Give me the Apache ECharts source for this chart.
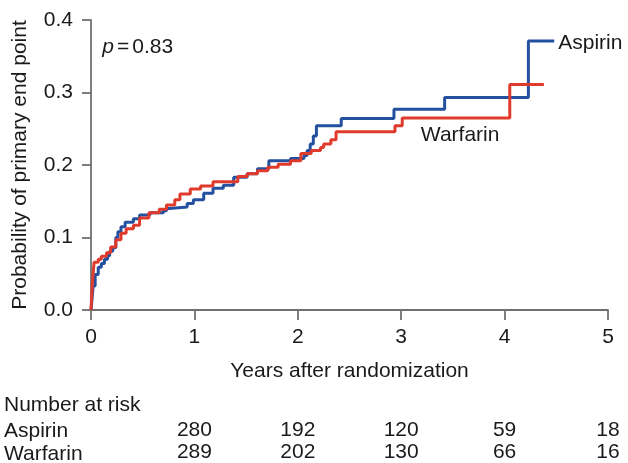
<!DOCTYPE html>
<html>
<head>
<meta charset="utf-8">
<script src="https://cdn.jsdelivr.net/npm/echarts@6/dist/echarts.min.js"></script>
<style>
html,body{margin:0;padding:0;background:#fff;}
#main{width:628px;height:463px;}
</style>
</head>
<body>
<div id="main"></div>
<script>
// Kaplan-Meier style step data: [years, probability]
const aspirinX = [0, 0.01, 0.02, 0.04, 0.07, 0.10, 0.13, 0.16, 0.18, 0.21, 0.24, 0.26, 0.29, 0.33, 0.41, 0.47, 0.57, 0.70, 0.73, 0.76, 0.93, 0.99, 1.09, 1.18, 1.28, 1.38, 1.51, 1.61, 1.72, 1.93, 2.06, 2.09, 2.12, 2.15, 2.18, 2.42, 2.93, 3.42, 4.23, 4.48];
const aspirinY = [0, 0.015, 0.033, 0.049, 0.059, 0.064, 0.070, 0.075, 0.081, 0.086, 0.100, 0.108, 0.115, 0.121, 0.126, 0.131, 0.134, 0.137, 0.140, 0.142, 0.147, 0.152, 0.161, 0.168, 0.172, 0.183, 0.188, 0.195, 0.206, 0.209, 0.213, 0.220, 0.229, 0.240, 0.254, 0.264, 0.277, 0.293, 0.371, 0.371];
const warfarinX = [0, 0.01, 0.02, 0.03, 0.07, 0.10, 0.15, 0.19, 0.24, 0.29, 0.34, 0.41, 0.47, 0.56, 0.66, 0.73, 0.81, 0.86, 0.96, 1.06, 1.18, 1.42, 1.51, 1.61, 1.71, 1.81, 1.93, 2.03, 2.13, 2.22, 2.25, 2.32, 2.37, 2.94, 3.01, 4.05, 4.38];
const warfarinY = [0, 0.029, 0.049, 0.066, 0.070, 0.074, 0.079, 0.087, 0.097, 0.106, 0.112, 0.117, 0.127, 0.134, 0.139, 0.145, 0.152, 0.160, 0.167, 0.171, 0.177, 0.184, 0.188, 0.192, 0.197, 0.201, 0.206, 0.216, 0.220, 0.224, 0.229, 0.235, 0.246, 0.254, 0.265, 0.311, 0.311];

const riskTimes = [1, 2, 3, 4, 5];
const riskAspirin = [280, 192, 120, 59, 18];
const riskWarfarin = [289, 202, 130, 66, 16];

const xLabelName = 'Years after randomization';
const yLabelName = 'Probability of primary end point';
const pValueText = '0.83';

const FONT = '"Liberation Sans", Arial, Helvetica, sans-serif';
const FS = 21;
const TXT = '#1a1a1a';
const AX = '#707070';

const chart = echarts.init(document.getElementById('main'), null, {renderer: 'canvas'});

function zip(xs, ys) { return xs.map((x, i) => [x, ys[i]]); }

chart.setOption({
  animation: false,
  backgroundColor: '#fff',
  grid: {left: 91, right: 20, top: 20, bottom: 153, containLabel: false},
  xAxis: {
    type: 'value', min: 0, max: 5, interval: 1,
    name: xLabelName, nameLocation: 'middle', nameGap: 51,
    nameTextStyle: {fontFamily: FONT, fontSize: FS, color: TXT},
    axisLine: {show: true, lineStyle: {color: AX, width: 1.8}},
    axisTick: {show: true, inside: false, length: 10, lineStyle: {color: AX, width: 1.8}},
    axisLabel: {fontFamily: FONT, fontSize: FS, color: TXT, margin: 17},
    splitLine: {show: false}
  },
  yAxis: {
    type: 'value', min: 0, max: 0.4, interval: 0.1,
    name: yLabelName, nameLocation: 'middle', nameGap: 60, nameRotate: 90,
    nameTextStyle: {fontFamily: FONT, fontSize: FS, color: TXT},
    axisLine: {show: true, lineStyle: {color: AX, width: 1.8}},
    axisTick: {show: true, inside: false, length: 9, lineStyle: {color: AX, width: 1.8}},
    axisLabel: {fontFamily: FONT, fontSize: FS, color: TXT, margin: 18, formatter: v => v.toFixed(1)},
    splitLine: {show: false}
  },
  series: [
    {
      name: 'Aspirin', type: 'line', step: 'end', showSymbol: false, symbol: 'none',
      data: zip(aspirinX, aspirinY),
      lineStyle: {color: '#2450a0', width: 3},
      itemStyle: {color: '#2450a0'},
      z: 3
    },
    {
      name: 'Warfarin', type: 'line', step: 'end', showSymbol: false, symbol: 'none',
      data: zip(warfarinX, warfarinY),
      lineStyle: {color: '#e03a2c', width: 3},
      itemStyle: {color: '#e03a2c'},
      z: 4
    }
  ]
});

// texts positioned from the axis scales
const px = (x, y) => chart.convertToPixel({gridIndex: 0}, [x, y]);
const graphics = [];
const pPos = px(0.11, 0.362);
graphics.push({
  type: 'text', x: pPos[0], y: pPos[1],
  style: {
    text: '{i|p}{e|=}{n|' + pValueText + '}',
    verticalAlign: 'middle',
    rich: {
      i: {fontFamily: FONT, fontSize: FS, fontStyle: 'italic', fill: TXT},
      e: {fontFamily: FONT, fontSize: FS, fill: TXT, padding: [0, 3]},
      n: {fontFamily: FONT, fontSize: FS, fill: TXT}
    }
  }
});
const aPos = px(aspirinX[aspirinX.length - 1], aspirinY[aspirinY.length - 1]);
graphics.push({type: 'text', x: aPos[0] + 4, y: aPos[1] + 2, style: {text: 'Aspirin', fontFamily: FONT, fontSize: FS, fill: TXT, verticalAlign: 'middle'}});
const wPos = px(3.19, 0.241);
graphics.push({type: 'text', x: wPos[0], y: wPos[1], style: {text: 'Warfarin', fontFamily: FONT, fontSize: FS, fill: TXT, verticalAlign: 'middle'}});

graphics.push({type: 'text', x: 4, y: 405, style: {text: 'Number at risk', fontFamily: FONT, fontSize: FS, fill: TXT, verticalAlign: 'middle'}});
graphics.push({type: 'text', x: 4, y: 431, style: {text: 'Aspirin', fontFamily: FONT, fontSize: FS, fill: TXT, verticalAlign: 'middle'}});
graphics.push({type: 'text', x: 4, y: 454, style: {text: 'Warfarin', fontFamily: FONT, fontSize: FS, fill: TXT, verticalAlign: 'middle'}});
riskTimes.forEach((t, i) => {
  const p = px(t, 0);
  graphics.push({type: 'text', x: p[0], y: 430, style: {text: String(riskAspirin[i]), fontFamily: FONT, fontSize: FS, fill: TXT, align: 'center', verticalAlign: 'middle'}});
  graphics.push({type: 'text', x: p[0], y: 452, style: {text: String(riskWarfarin[i]), fontFamily: FONT, fontSize: FS, fill: TXT, align: 'center', verticalAlign: 'middle'}});
});
chart.setOption({graphic: graphics});
</script>
</body>
</html>
